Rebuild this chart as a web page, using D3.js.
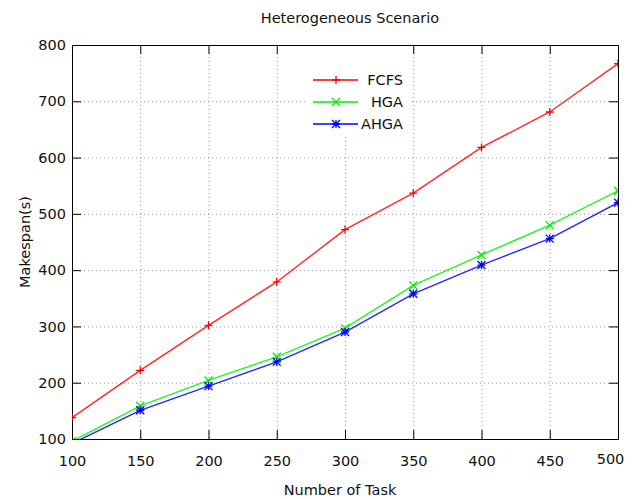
<!DOCTYPE html>
<html><head><meta charset="utf-8">
<script src="https://cdn.jsdelivr.net/npm/d3@7"></script>
<style>body{margin:0;background:#fff}svg{display:block}text{font-family:"DejaVu Sans",sans-serif;fill:#111}</style>
</head><body>
<script>
const tasks = [100,150,200,250,300,350,400,450,500];
const fcfs = [138,222,302,379,472,537,618,681,767];
const hga  = [96,159,204,246,297,373,427,480,541];
const ahga = [92,151,194,237,290,358,409,456,520];
const xTicks = [100,150,200,250,300,350,400,450,500];
const yTicks = [100,200,300,400,500,600,700,800];
const seriesNames = ["FCFS","HGA","AHGA"];
const seriesColors = ["#ff0000","#00ee00","#0000ff"];
const seriesMarkers = ["plus","cross","star"];

const W=633,H=499, m={l:72,t:45,r:15,b:60};
const FS=14.5;
const svg=d3.select("body").append("svg").attr("width",W).attr("height",H);
const x=d3.scaleLinear().domain([100,500]).range([m.l,W-m.r]);
const y=d3.scaleLinear().domain([100,800]).range([H-m.b,m.t]);
const x0=m.l,x1=W-m.r,y0=H-m.b,y1=m.t;

svg.append("defs").append("clipPath").attr("id","clip").append("rect")
  .attr("x",x0).attr("y",y1).attr("width",x1-x0).attr("height",y0-y1);

// grid
const grid=svg.append("g").attr("stroke","#999").attr("stroke-dasharray","1,3").attr("stroke-width",1);
xTicks.slice(1,-1).forEach(t=>grid.append("line").attr("x1",x(t)+.5).attr("x2",x(t)+.5).attr("y1",y1).attr("y2",y0));
yTicks.slice(1,-1).forEach(t=>grid.append("line").attr("y1",y(t)+.5).attr("y2",y(t)+.5).attr("x1",x0).attr("x2",x1));

// axes with inward ticks
const tl=9;
svg.append("g").attr("transform",`translate(0,${y0})`).call(d3.axisBottom(x).tickValues(xTicks).tickSize(-tl).tickPadding(17))
  .call(g=>{g.select(".domain").remove();g.selectAll("text").attr("font-size",FS).attr("fill","#111").attr("font-family","DejaVu Sans");
    g.selectAll(".tick").filter(d=>d===500).select("text").attr("dx",-8).attr("dy","0.55em");});
svg.append("g").attr("transform",`translate(0,${y1})`).call(d3.axisTop(x).tickValues(xTicks.filter(t=>t!==300)).tickSize(-tl).tickFormat(""))
  .call(g=>g.select(".domain").remove());
svg.append("g").attr("transform",`translate(${x0},0)`).call(d3.axisLeft(y).tickValues(yTicks).tickSize(-tl).tickPadding(6))
  .call(g=>{g.select(".domain").remove();g.selectAll("text").attr("font-size",FS).attr("fill","#111").attr("font-family","DejaVu Sans");});
svg.append("g").attr("transform",`translate(${x1},0)`).call(d3.axisRight(y).tickValues(yTicks).tickSize(-tl).tickFormat(""))
  .call(g=>g.select(".domain").remove());
svg.selectAll(".tick line").attr("stroke","#000");
svg.append("rect").attr("x",x0+.5).attr("y",y1+.5).attr("width",x1-x0).attr("height",y0-y1).attr("fill","none").attr("stroke","#000");

function marker(g,type,cx,cy,color){
  const s=4;
  const p=g.append("path").attr("stroke",color).attr("stroke-width",1.3).attr("fill","none");
  let d="";
  if(type==="plus"||type==="star") d+=`M${cx-s},${cy}H${cx+s}M${cx},${cy-s}V${cy+s}`;
  if(type==="cross"||type==="star") d+=`M${cx-s},${cy-s}L${cx+s},${cy+s}M${cx-s},${cy+s}L${cx+s},${cy-s}`;
  p.attr("d",d);
}

const data=[fcfs,hga,ahga];
const plot=svg.append("g").attr("clip-path","url(#clip)");
const line=d3.line().x((d,i)=>x(tasks[i])).y(d=>y(d));
data.forEach((vals,k)=>{
  plot.append("path").datum(vals).attr("d",line).attr("fill","none").attr("stroke",seriesColors[k]).attr("stroke-width",1.4).attr("stroke-opacity",0.85);
  vals.forEach((v,i)=>marker(plot,seriesMarkers[k],x(tasks[i]),y(v),seriesColors[k]));
});

// legend
const lg=svg.append("g");
lg.append("rect").attr("x",307).attr("y",y1+1).attr("width",103).attr("height",88).attr("fill","#fff");
seriesNames.forEach((n,k)=>{
  const ly=80+k*22;
  lg.append("line").attr("x1",313).attr("x2",358).attr("y1",ly).attr("y2",ly).attr("stroke",seriesColors[k]).attr("stroke-width",1.3);
  marker(lg,seriesMarkers[k],336,ly,seriesColors[k]);
  lg.append("text").attr("x",403).attr("y",ly).attr("dy","0.36em").attr("text-anchor","end").attr("font-size",FS).text(n);
});

svg.append("text").attr("x",350).attr("y",23).attr("text-anchor","middle").attr("font-size",FS).text("Heterogeneous Scenario");
svg.append("text").attr("x",340).attr("y",495).attr("text-anchor","middle").attr("font-size",FS).text("Number of Task");
svg.append("text").attr("transform","translate(30,242) rotate(-90)").attr("text-anchor","middle").attr("font-size",FS).text("Makespan(s)");
</script>
</body></html>
